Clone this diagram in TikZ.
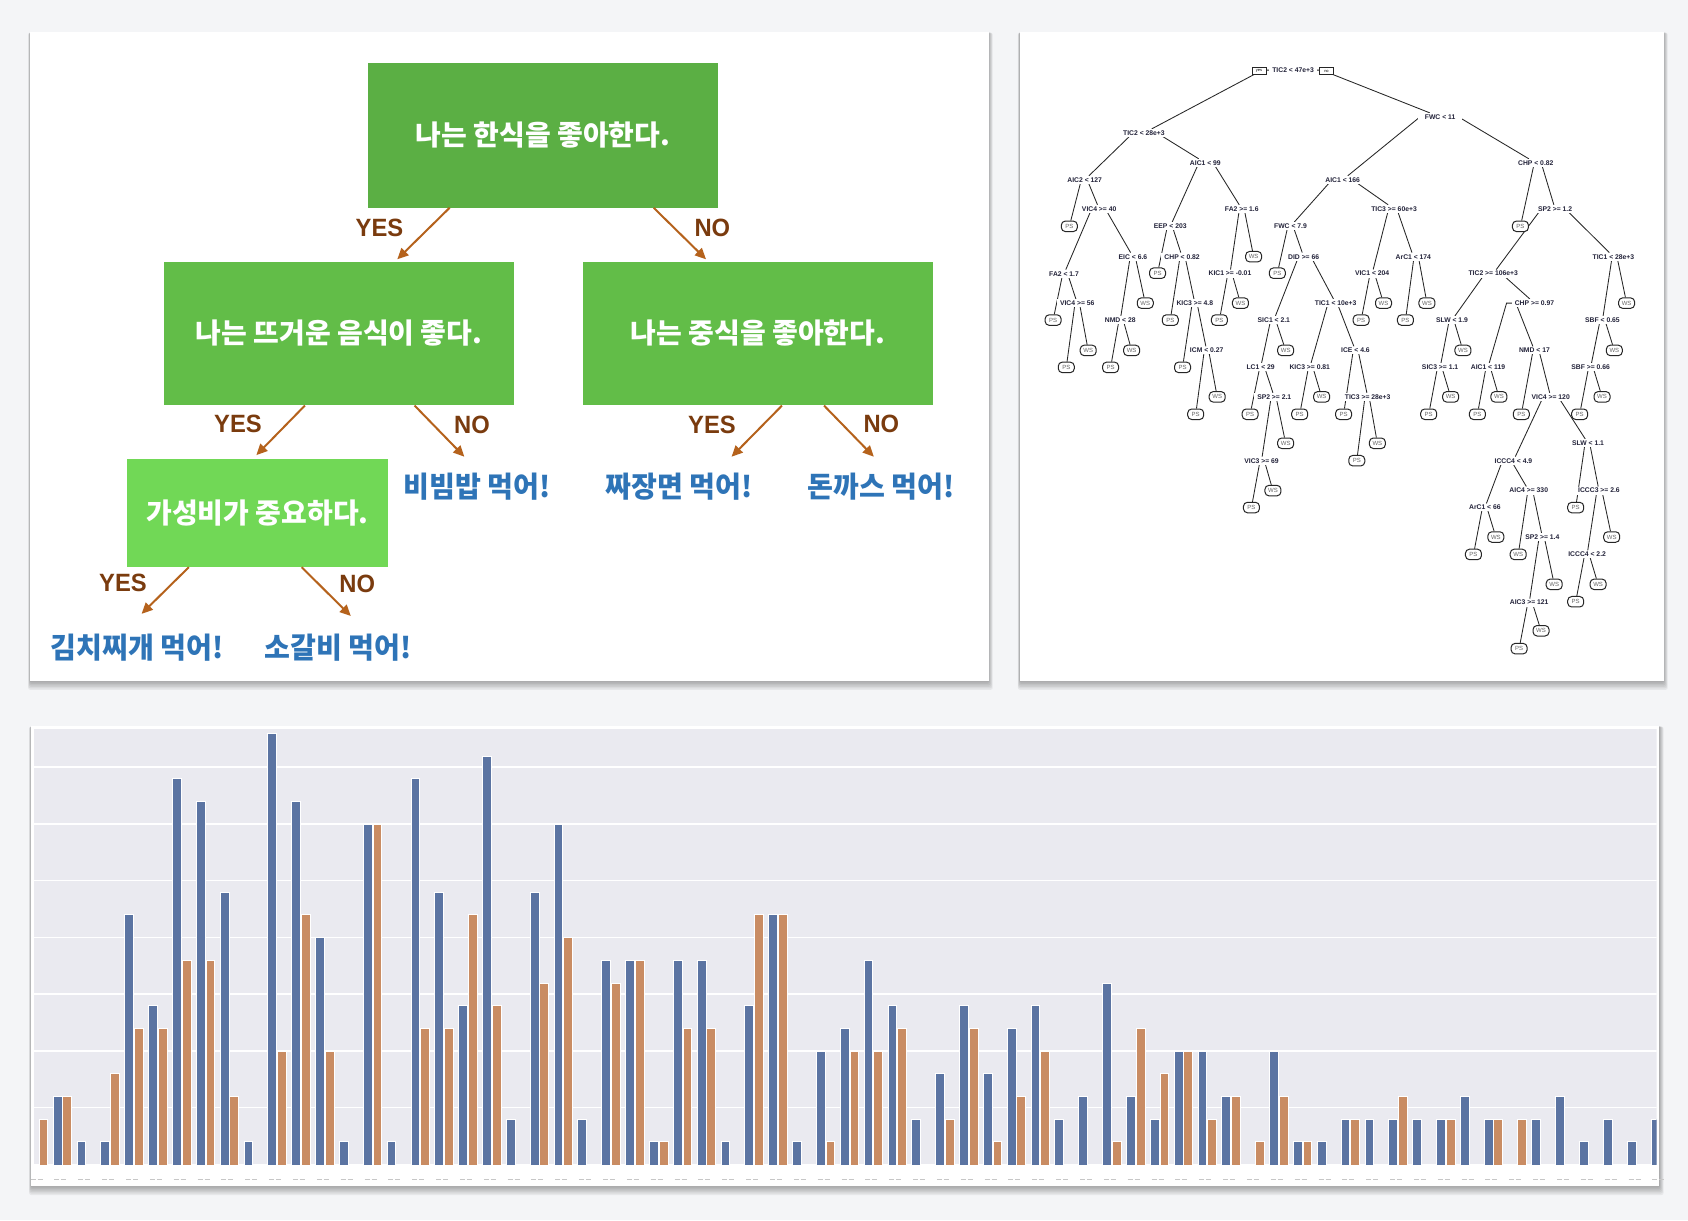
\documentclass[tikz,border=0pt]{standalone}
\usepackage{fontspec}
\usetikzlibrary{arrows.meta,calc}
\newfontfamily\krfont[FakeStretch=1.0]{Noto Sans CJK KR}
\newfontfamily\krleaf[FakeStretch=0.97]{Noto Sans CJK KR}
\newfontfamily\labfont[FakeStretch=0.95]{Liberation Sans}
\newfontfamily\trfont{Liberation Sans}
\definecolor{pagebg}{HTML}{F4F5F7}
\definecolor{gA}{HTML}{5BAF44}
\definecolor{gB}{HTML}{62BD48}
\definecolor{gC}{HTML}{71D856}
\definecolor{arrc}{HTML}{B5621C}
\definecolor{ynbrown}{HTML}{7A3B0E}
\definecolor{leafblue}{HTML}{2E74B7}
\definecolor{barblue}{HTML}{5B74A2}
\definecolor{barorange}{HTML}{C98C63}
\definecolor{plotbg}{HTML}{EAEAF0}
\definecolor{treetxt}{HTML}{23233A}
\pgfdeclarelayer{back}
\pgfdeclarelayer{lines}
\pgfsetlayers{back,lines,main}
\newcommand\PanelShadow[4]{%
  \foreach \sh in {1,...,6}{\fill[black,opacity=0.055,rounded corners=2pt] ({#1-0.3*\sh},{#2+0.1*\sh}) rectangle ({#3+0.7*\sh},{#4+1.5*\sh});}}
\newcommand\TreeBr[3]{\draw[br] let \p1=(#2), \p2=(#3), \p3=(#1) in (#2) -- ({\x1+0.4*(\x2-\x1)},\y3) -- ({\x1+0.6*(\x2-\x1)},\y3) -- (#3);}
\begin{document}
\begin{tikzpicture}[x=1pt,y=-1pt,
  box/.style={draw=none, inner sep=0pt, text=white, font=\krfont\bfseries\fontsize{28}{32}\selectfont},
  leaf/.style={inner sep=0pt, text=leafblue, font=\krleaf\bfseries\fontsize{29}{33}\selectfont},
  ynl/.style={inner sep=0pt, text=ynbrown, font=\labfont\bfseries\fontsize{25}{28}\selectfont},
  arr/.style={draw=arrc, line width=2pt, -{Triangle[length=11pt,width=10pt]}},
  sp/.style={font=\trfont\bfseries\fontsize{6.8}{7}\selectfont, text=treetxt, fill=white, inner xsep=3pt, inner ysep=1.5pt},
  lf/.style={draw=black!85, line width=1pt, rounded corners=4pt, fill=white, font=\trfont\fontsize{6}{7}\selectfont, text=black!60, minimum width=16pt, minimum height=10.5pt, inner sep=0.5pt},
  ynb/.style={draw=black!85, line width=0.6pt, fill=white, font=\trfont\fontsize{4}{5}\selectfont, minimum width=14pt, minimum height=7pt, inner sep=0.3pt},
  br/.style={draw=black!85, line width=0.85pt}
]
\useasboundingbox (0,0) rectangle (1688,1220);
\begin{pgfonlayer}{back}
\fill[pagebg] (0,0) rectangle (1688,1220);
\PanelShadow{30}{32.1}{988.5}{680.8}
\PanelShadow{1019.7}{32.1}{1663.5}{680.8}
\PanelShadow{30.9}{726}{1659.3}{1186}
\fill[white] (30,32.1) rectangle (988.5,680.8);
\fill[white] (1019.7,32.1) rectangle (1663.5,680.8);
\fill[white] (30.9,726) rectangle (1659.3,1186);
\end{pgfonlayer}

% ---------------- left panel: decision tree ----------------
\node[box, fill=gA, minimum width=350pt, minimum height=144.6pt] (root) at (543,135.3) {나는 한식을 좋아한다.};
\node[box, fill=gB, minimum width=350pt, minimum height=143.7pt] (l2l) at (339,333.5) {나는 뜨거운 음식이 좋다.};
\node[box, fill=gB, minimum width=350pt, minimum height=143.7pt] (l2r) at (758,333.5) {나는 중식을 좋아한다.};
\node[box, fill=gC, minimum width=261pt, minimum height=108pt] (l3) at (257.5,513) {가성비가 중요하다.};

\node[leaf] (bibim) at (477,486.6) {비빔밥 먹어!};
\node[leaf] (jjajang) at (679.3,486.6) {짜장면 먹어!};
\node[leaf] (donkas) at (880.8,486.6) {돈까스 먹어!};
\node[leaf] (kimchi) at (137,648) {김치찌개 먹어!};
\node[leaf] (galbi) at (338,648) {소갈비 먹어!};

\node[ynl] (yn1) at (379.5,227.7) {YES};
\node[ynl] (yn2) at (712.4,227.7) {NO};
\node[ynl] (yn3) at (238,424) {YES};
\node[ynl] (yn4) at (472,425) {NO};
\node[ynl] (yn5) at (712,425) {YES};
\node[ynl] (yn6) at (881.4,424) {NO};
\node[ynl] (yn7) at (123,582.6) {YES};
\node[ynl] (yn8) at (357.2,584) {NO};

\draw[arr] ([xshift=-93.4pt]root.south) -- ([xshift=58.3pt,yshift=2.2pt]l2l.north);
\draw[arr] ([xshift=110.7pt]root.south) -- ([xshift=-52pt,yshift=2.2pt]l2r.north);
\draw[arr] ([xshift=-34.1pt]l2l.south) -- ([xshift=-1.1pt,yshift=3.7pt]l3.north);
\draw[arr] ([xshift=75.6pt]l2l.south) -- ([xshift=-12.7pt,yshift=29.9pt]bibim.center);
\draw[arr] ([xshift=24pt]l2r.south) -- ([xshift=52.3pt,yshift=29.9pt]jjajang.center);
\draw[arr] ([xshift=66pt]l2r.south) -- ([xshift=-7pt,yshift=29.9pt]donkas.center);
\draw[arr] ([xshift=-68.7pt]l3.south) -- ([xshift=4.6pt,yshift=34.2pt]kimchi.center);
\draw[arr] ([xshift=44.2pt]l3.south) -- ([xshift=12.8pt,yshift=32pt]galbi.center);

% ---------------- right panel: rpart tree ----------------
\begin{scope}[shift={(1000pt,0pt)},x=0.4388pt,y=-0.4464pt]
\node[sp] (r) at (668,157) {TIC2 < 47e+3};
\node[ynb] (ryes) at (590,158) {yes};
\node[ynb] (rno) at (744,159) {no};
\node[sp] (a) at (328,298) {TIC2 < 28e+3};
\node[sp,inner xsep=7pt] (b) at (1003,262) {FWC < 11};
\node[sp] (a1) at (193,403) {AIC2 < 127};
\node[sp] (a2) at (468,365) {AIC1 < 99};
\node[lf] (a11) at (158,507) {PS};
\node[sp] (a12) at (226,468) {VIC4 >= 40};
\node[sp] (a121) at (146,613) {FA2 < 1.7};
\node[sp] (a122) at (303,575) {EIC < 6.6};
\node[lf] (a1211) at (121,717) {PS};
\node[sp] (a1212) at (176,679) {VIC4 >= 56};
\node[lf] (a12121) at (151,823) {PS};
\node[lf] (a12122) at (201,785) {WS};
\node[sp] (a1221) at (274,717) {NMD < 28};
\node[lf] (a1222) at (331,679) {WS};
\node[lf] (a12211) at (252,823) {PS};
\node[lf] (a12212) at (300,785) {WS};
\node[sp] (a21) at (388,507) {EEP < 203};
\node[sp] (a22) at (551,468) {FA2 >= 1.6};
\node[lf] (a211) at (359,612) {PS};
\node[sp] (a212) at (415,575) {CHP < 0.82};
\node[lf] (a2121) at (388,717) {PS};
\node[sp] (a2122) at (444,679) {KIC3 >= 4.8};
\node[lf] (a21221) at (416,823) {PS};
\node[sp] (a21222) at (471,785) {ICM < 0.27};
\node[lf] (a212221) at (446,928) {PS};
\node[lf] (a212222) at (495,889) {WS};
\node[sp] (a221) at (524,613) {KIC1 >= -0.01};
\node[lf] (a222) at (578,575) {WS};
\node[lf] (a2211) at (500,717) {PS};
\node[lf] (a2212) at (548,679) {WS};
\node[sp] (b1) at (781,403) {AIC1 < 166};
\node[sp] (b2) at (1221,365) {CHP < 0.82};
\node[sp] (b11) at (662,507) {FWC < 7.9};
\node[sp] (b12) at (898,468) {TIC3 >= 60e+3};
\node[lf] (b111) at (632,612) {PS};
\node[sp] (b112) at (692,575) {DID >= 66};
\node[sp] (b1121) at (624,717) {SIC1 < 2.1};
\node[sp] (b1122) at (765,679) {TIC1 < 10e+3};
\node[sp] (b11211) at (594,823) {LC1 < 29};
\node[lf] (b11212) at (651,785) {WS};
\node[lf] (b112111) at (570,928) {PS};
\node[sp] (b112112) at (625,889) {SP2 >= 2.1};
\node[sp] (b1121121) at (596,1032) {VIC3 >= 69};
\node[lf] (b1121122) at (651,993) {WS};
\node[lf] (b11211211) at (573,1137) {PS};
\node[lf] (b11211212) at (622,1099) {WS};
\node[sp] (b11221) at (706,823) {KIC3 >= 0.81};
\node[sp] (b11222) at (810,785) {ICE < 4.6};
\node[lf] (b112211) at (683,928) {PS};
\node[lf] (b112212) at (733,889) {WS};
\node[lf] (b112221) at (783,928) {PS};
\node[sp] (b112222) at (838,889) {TIC3 >= 28e+3};
\node[lf] (b1122221) at (813,1032) {PS};
\node[lf] (b1122222) at (860,993) {WS};
\node[sp] (b121) at (848,613) {VIC1 < 204};
\node[sp] (b122) at (942,575) {ArC1 < 174};
\node[lf] (b1211) at (823,717) {PS};
\node[lf] (b1212) at (874,679) {WS};
\node[lf] (b1221) at (924,717) {PS};
\node[lf] (b1222) at (973,679) {WS};
\node[lf] (b21) at (1186,507) {PS};
\node[sp] (b22) at (1265,468) {SP2 >= 1.2};
\node[sp] (b221) at (1124,613) {TIC2 >= 106e+3};
\node[sp] (b222) at (1398,575) {TIC1 < 28e+3};
\node[sp] (b2211) at (1030,717) {SLW < 1.9};
\node[sp] (b2212) at (1218,679) {CHP >= 0.97};
\node[sp] (b22111) at (1003,823) {SIC3 >= 1.1};
\node[lf] (b22112) at (1055,785) {WS};
\node[lf] (b221111) at (977,928) {PS};
\node[lf] (b221112) at (1027,889) {WS};
\node[sp] (b22121) at (1112,823) {AIC1 < 119};
\node[sp] (b22122) at (1218,785) {NMD < 17};
\node[lf] (b221211) at (1088,928) {PS};
\node[lf] (b221212) at (1137,889) {WS};
\node[lf] (b221221) at (1188,928) {PS};
\node[sp] (b221222) at (1255,889) {VIC4 >= 120};
\node[sp] (b2212221) at (1170,1032) {ICCC4 < 4.9};
\node[sp] (b2212222) at (1340,993) {SLW < 1.1};
\node[sp] (b22122211) at (1105,1137) {ArC1 < 66};
\node[sp] (b22122212) at (1205,1099) {AIC4 >= 330};
\node[lf] (b221222111) at (1079,1242) {PS};
\node[lf] (b221222112) at (1130,1203) {WS};
\node[lf] (b221222121) at (1181,1242) {WS};
\node[sp] (b221222122) at (1236,1203) {SP2 >= 1.4};
\node[sp] (b2212221221) at (1206,1350) {AIC3 >= 121};
\node[lf] (b2212221222) at (1263,1309) {WS};
\node[lf] (b22122212211) at (1183,1453) {PS};
\node[lf] (b22122212212) at (1233,1413) {WS};
\node[lf] (b22122221) at (1312,1137) {PS};
\node[sp] (b22122222) at (1365,1099) {ICCC3 >= 2.6};
\node[sp] (b221222221) at (1338,1242) {ICCC4 < 2.2};
\node[lf] (b221222222) at (1394,1203) {WS};
\node[lf] (b2212222211) at (1312,1348) {PS};
\node[lf] (b2212222212) at (1363,1309) {WS};
\node[sp] (b2221) at (1373,717) {SBF < 0.65};
\node[lf] (b2222) at (1428,679) {WS};
\node[sp] (b22211) at (1346,823) {SBF >= 0.66};
\node[lf] (b22212) at (1400,785) {WS};
\node[lf] (b222111) at (1321,928) {PS};
\node[lf] (b222112) at (1372,889) {WS};
\end{scope}

\begin{pgfonlayer}{lines}
\TreeBr{r}{a}{b}
\foreach \X in {a,a1,a12,a121,a1212,a122,a1221,a2,a21,a212,a2122,a21222,a22,a221,b,b1,b11,b112,b1121,b11211,b112112,b1121121,b1122,b11221,b11222,b112222,b12,b121,b122,b2,b22,b221,b2211,b22111,b2212,b22121,b22122,b221222,b2212221,b22122211,b22122212,b221222122,b2212221221,b2212222,b22122222,b221222221,b222,b2221,b22211}{\TreeBr{\X}{\X1}{\X2}}
\end{pgfonlayer}

% ---------------- bottom panel: bar chart ----------------
\begin{scope}
\clip (33.6,729) rectangle (1656.6,1164);
\fill[plotbg] (33.6,729) rectangle (1656.6,1164);
\foreach \g in {2.5,5,7.5,10,12.5,15,17.5} \draw[white,line width=1.5pt] (33.6,{1164.4-22.7*\g}) -- (1656.6,{1164.4-22.7*\g});
\foreach \k/\b/\o in {0/0/2,1/3/3,2/1/0,3/1/4,4/11/6,5/7/6,6/17/9,7/16/9,8/12/3,9/1/0,10/19/5,11/16/11,12/10/5,13/1/0,14/15/15,15/1/0,16/17/6,17/12/6,18/7/11,19/18/7,20/2/0,21/12/8,22/15/10,23/2/0,24/9/8,25/9/9,26/1/1,27/9/6,28/9/6,29/1/0,30/7/11,31/11/11,32/1/0,33/5/1,34/6/5,35/9/5,36/7/6,37/2/0,38/4/2,39/7/6,40/4/1,41/6/3,42/7/5,43/2/0,44/3/0,45/8/1,46/3/6,47/2/4,48/5/5,49/5/2,50/3/3,51/0/1,52/5/3,53/1/1,54/1/0,55/2/2,56/2/0,57/2/3,58/2/0,59/2/2,60/3/0,61/2/2,62/0/2,63/2/0,64/3/0,65/1/0,66/2/0,67/1/0,68/2/0}{
  \pgfmathsetmacro\cx{33.6+23.85*\k}
  \ifnum\b>0 \filldraw[fill=barblue,draw=white,line width=0.6pt] ({\cx-4.4},1166) rectangle ({\cx+4.4},{1164.4-22.7*\b}); \fi
  \ifnum\o>0 \filldraw[fill=barorange,draw=white,line width=0.6pt] ({\cx+5.3},1166) rectangle ({\cx+14.1},{1164.4-22.7*\o}); \fi
}
\end{scope}
\foreach \k in {0,...,68}{
  \pgfmathsetmacro\cx{33.6+23.85*\k}
  \draw[black!22,line width=0.8pt] ({\cx-3},1179.5) -- ({\cx+2},1179.5) ({\cx+4},1179.5) -- ({\cx+9},1179.5);
}
\end{tikzpicture}
\end{document}
